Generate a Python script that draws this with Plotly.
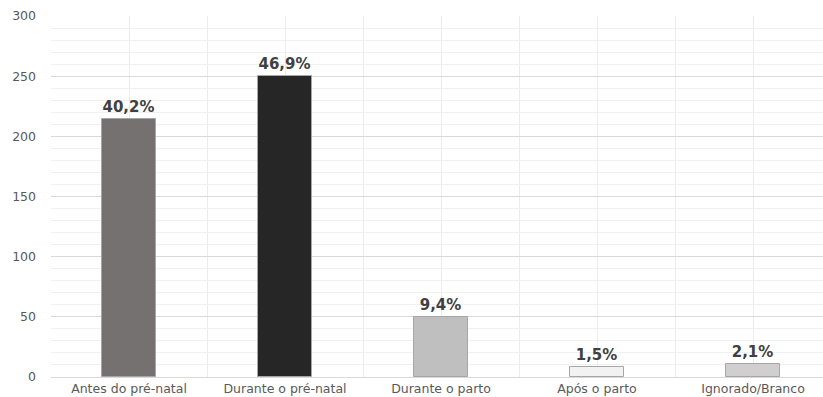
import plotly.graph_objects as go

categories = ["Antes do pré-natal", "Durante o pré-natal", "Durante o parto", "Após o parto", "Ignorado/Branco"]
values = [214, 250, 50, 8, 11]
labels = ["40,2%", "46,9%", "9,4%", "1,5%", "2,1%"]
colors = ["#757170", "#262626", "#bfbfbf", "#f2f2f2", "#d0cece"]
y_ticks = [0, 50, 100, 150, 200, 250, 300]

xpos = list(range(len(categories)))

fig = go.Figure()
fig.add_trace(go.Bar(
    x=xpos, y=values, width=0.34,
    marker=dict(color=colors, line=dict(color="#a6a6a6", width=1)),
    text=labels, textposition="outside", cliponaxis=False,
    textfont=dict(family="DejaVu Sans", size=15, color="#404040", weight="bold"),
    hoverinfo="skip",
))

fig.update_layout(
    width=823, height=397,
    margin=dict(l=51, r=0, t=16, b=20),
    plot_bgcolor="white", paper_bgcolor="white",
    showlegend=False,
    bargap=0,
    uniformtext=dict(minsize=8, mode=False),
)
fig.update_xaxes(
    range=[-0.5, -0.5 + 772 / 156],
    tickmode="array", tickvals=xpos, ticktext=categories,
    tickfont=dict(family="DejaVu Sans", size=12.5, color="#595959"),
    showgrid=True, gridcolor="#ececec", gridwidth=1,
    minor=dict(tickmode="array", tickvals=[i - 0.5 for i in range(6)], showgrid=True, gridcolor="#ececec", gridwidth=1),
    zeroline=False, showline=False, ticks="", ticklabelstandoff=2,
)
fig.update_yaxes(
    range=[0, 300],
    tickmode="array", tickvals=y_ticks,
    tickfont=dict(family="DejaVu Sans", size=12.5, color="#595959"),
    showgrid=True, gridcolor="#d9d9d9", gridwidth=1,
    minor=dict(dtick=10, showgrid=True, gridcolor="#f0f0f0", gridwidth=1),
    zeroline=True, zerolinecolor="#d9d9d9", zerolinewidth=1,
    showline=False, ticks="", ticklabelstandoff=14,
)

fig.write_html("out.html")
